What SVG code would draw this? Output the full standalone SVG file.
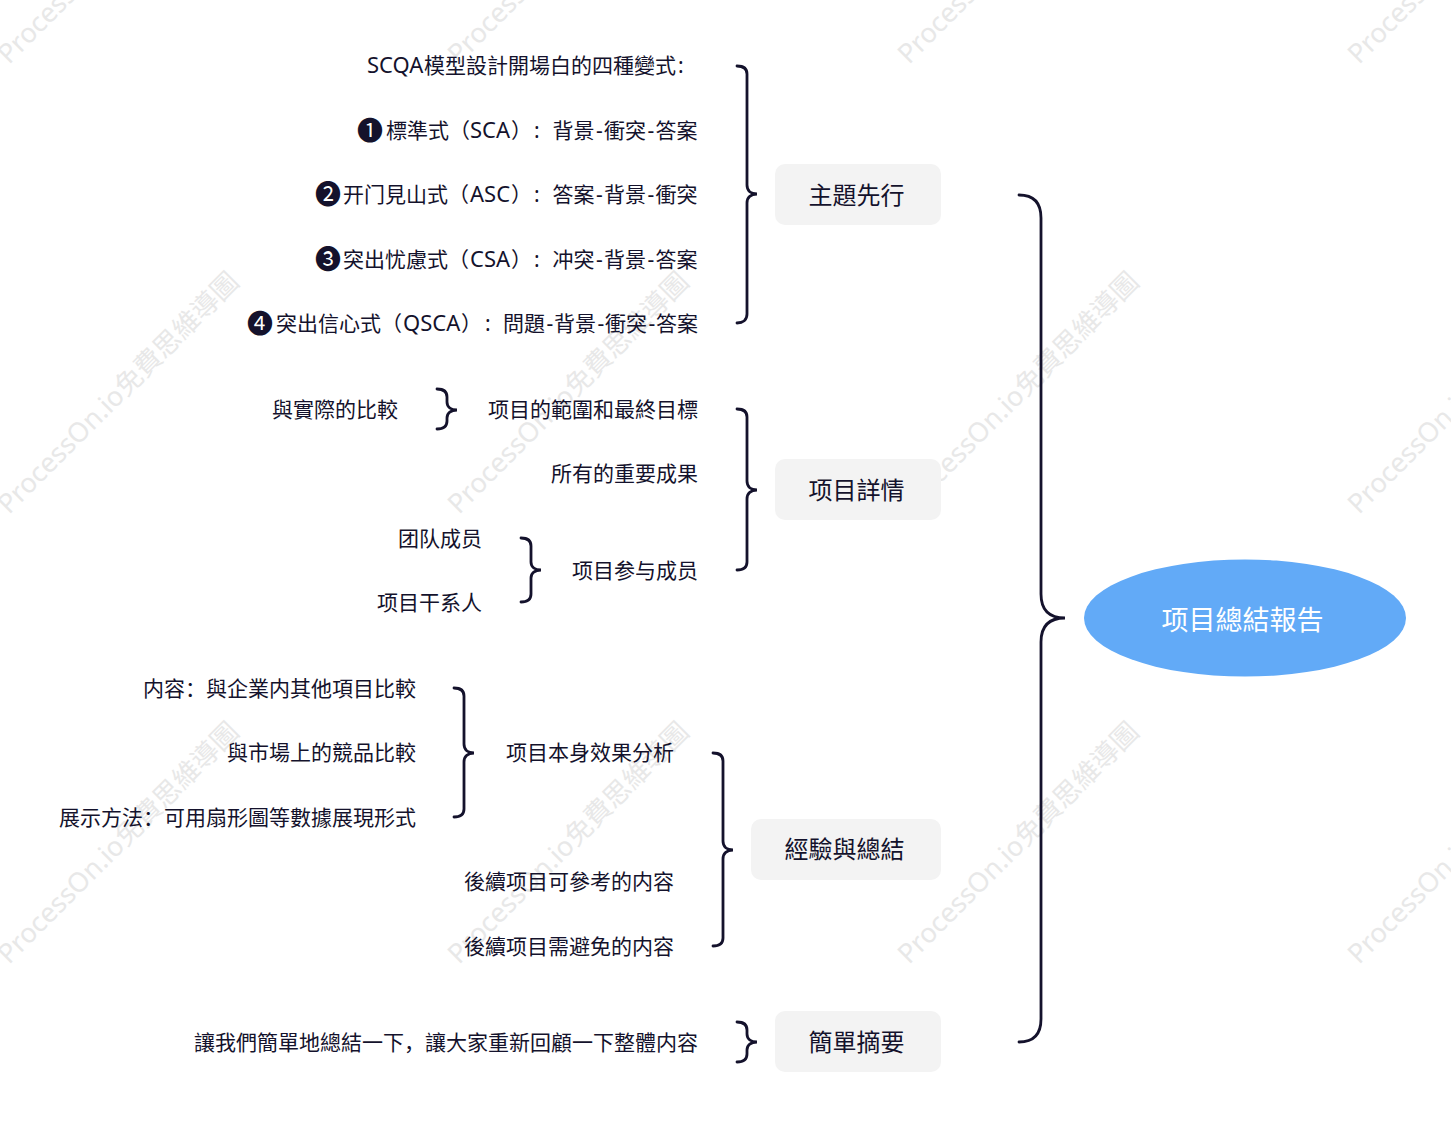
<svg xmlns="http://www.w3.org/2000/svg" width="1451" height="1133" viewBox="0 0 1451 1133">
<style>
text{font-family:"Noto Sans","Noto Sans CJK SC",sans-serif;fill:#14122c}
.t{font-size:21px;text-anchor:end}
.s{font-size:21px}
.l{font-size:22px}
.c{font-size:26px;font-family:"Noto Sans CJK SC",sans-serif}
.n{font-size:24px;text-anchor:middle}
.w{font-size:27px;fill:#e8e8e8}
.b{fill:none;stroke:#14122c;stroke-width:2.8;stroke-linecap:round}
.box{fill:#f3f3f3}
</style>
<defs><text id="wm" class="w" transform="rotate(-45)">ProcessOn.io免費思維導圖</text></defs>
<rect width="1451" height="1133" fill="#fff"/>
<g id="watermarks">
<use href="#wm" transform="translate(9 65)"/><use href="#wm" transform="translate(459 65)"/><use href="#wm" transform="translate(909 65)"/><use href="#wm" transform="translate(1359 65)"/>
<use href="#wm" transform="translate(9 515)"/><use href="#wm" transform="translate(459 515)"/><use href="#wm" transform="translate(909 515)"/><use href="#wm" transform="translate(1359 515)"/>
<use href="#wm" transform="translate(9 965)"/><use href="#wm" transform="translate(459 965)"/><use href="#wm" transform="translate(909 965)"/><use href="#wm" transform="translate(1359 965)"/>
</g>
<g id="connectors">
<path class="b" d="M1019 195C1034 195 1041 203 1041 218V594C1041 609 1048 618 1065 618C1048 618 1041 627 1041 642V1019C1041 1034 1034 1042 1019 1042"/>
<path class="b" d="M737 66C743 66 747 68 747 74V185C747 191 751 194 757 194C751 194 747 197 747 203V314C747 320 743 323 737 323"/>
<path class="b" d="M737 409C743 409 747 411 747 417V481C747 487 751 490 757 490C751 490 747 493 747 499V562C747 568 743 570 737 570"/>
<path class="b" d="M713 753C719 753 723 755 723 761V841C723 847 727 850 733 850C727 850 723 853 723 859V938C723 944 719 946 713 946"/>
<path class="b" d="M454 688C460 688 464 690 464 696V744C464 750 468 753 474 753C468 753 464 756 464 762V809C464 815 460 817 454 817"/>
<path class="b" d="M437 389C443 389 447 391 447 397V402C447 407 451 410 457 410C451 410 447 413 447 418V421C447 427 443 429 437 429"/>
<path class="b" d="M521 538C527 538 531 540 531 546V562C531 567 535 570 541 570C535 570 531 573 531 578V594C531 600 527 602 521 602"/>
<path class="b" d="M737 1022C743 1022 747 1024 747 1030V1034C747 1039 751 1042 757 1042C751 1042 747 1045 747 1050V1054C747 1060 743 1062 737 1062"/>
</g>
<g id="root"><ellipse cx="1245" cy="618" rx="161" ry="58.500" fill="#62aaf7"/><text x="1242.500" y="630" style="font-size:27px;text-anchor:middle;fill:#fff">项目總結報告</text></g>
<g id="n1"><rect class="box" x="775" y="164" width="166" height="61" rx="10"/><text class="n" x="856.500" y="204">主題先行</text></g>
<g id="n2"><rect class="box" x="775" y="459" width="166" height="61" rx="10"/><text class="n" x="856.500" y="499">项目詳情</text></g>
<g id="n3"><rect class="box" x="751" y="819" width="190" height="61" rx="10"/><text class="n" x="844.500" y="858">經驗與總結</text></g>
<g id="n4"><rect class="box" x="775" y="1011" width="166" height="61" rx="10"/><text class="n" x="856.500" y="1051">簡單摘要</text></g>
<g id="labels">
<text class="s" x="367" y="73"><tspan class="l">SCQA</tspan><tspan x="424">模型設計開場白的四種變式</tspan><tspan x="678">:</tspan></text>
<text class="c" x="357" y="140">❶</text>
<text class="s" x="386" y="138">標準式（<tspan class="l" x="470">SCA</tspan><tspan x="511">）</tspan><tspan x="534">:</tspan><tspan x="552.500">背景<tspan dx="1.400">-</tspan></tspan><tspan x="604">衝突<tspan dx="1.400">-</tspan></tspan><tspan x="655.500">答案</tspan></text>
<text class="c" x="315" y="204">❷</text>
<text class="s" x="343" y="202">开门見山式（<tspan class="l" x="470">ASC</tspan><tspan x="511">）</tspan><tspan x="534">:</tspan><tspan x="552.500">答案<tspan dx="1.400">-</tspan></tspan><tspan x="604">背景<tspan dx="1.400">-</tspan></tspan><tspan x="655.500">衝突</tspan></text>
<text class="c" x="315" y="269">❸</text>
<text class="s" x="343" y="267">突出忧慮式（<tspan class="l" x="470">CSA</tspan><tspan x="511">）</tspan><tspan x="534">:</tspan><tspan x="552.500">冲突<tspan dx="1.400">-</tspan></tspan><tspan x="604">背景<tspan dx="1.400">-</tspan></tspan><tspan x="655.500">答案</tspan></text>
<text class="c" x="247" y="333">❹</text>
<text class="s" x="276" y="331">突出信心式（<tspan class="l" x="403">QSCA</tspan><tspan x="461">）</tspan><tspan x="485">:</tspan><tspan x="503">問題<tspan dx="1.400">-</tspan></tspan><tspan x="554">背景<tspan dx="1.400">-</tspan></tspan><tspan x="605">衝突<tspan dx="1.400">-</tspan></tspan><tspan x="656">答案</tspan></text>
<text class="t" x="398" y="417">與實際的比較</text>
<text class="t" x="698" y="417">项目的範圍和最終目標</text>
<text class="t" x="698" y="481">所有的重要成果</text>
<text class="t" x="698" y="578">项目参与成员</text>
<text class="t" x="482" y="546">团队成员</text>
<text class="t" x="482" y="610">项目干系人</text>
<text class="t" x="416" y="696">内容：與企業内其他項目比較</text>
<text class="t" x="416" y="760">與市場上的競品比較</text>
<text class="t" x="416" y="825">展示方法：可用扇形圖等數據展現形式</text>
<text class="t" x="674" y="760">项目本身效果分析</text>
<text class="t" x="674" y="889">後續项目可參考的内容</text>
<text class="t" x="674" y="954">後續项目需避免的内容</text>
<text class="t" x="698" y="1050">讓我們簡單地總結一下，讓大家重新回顧一下整體内容</text>
</g>
</svg>
